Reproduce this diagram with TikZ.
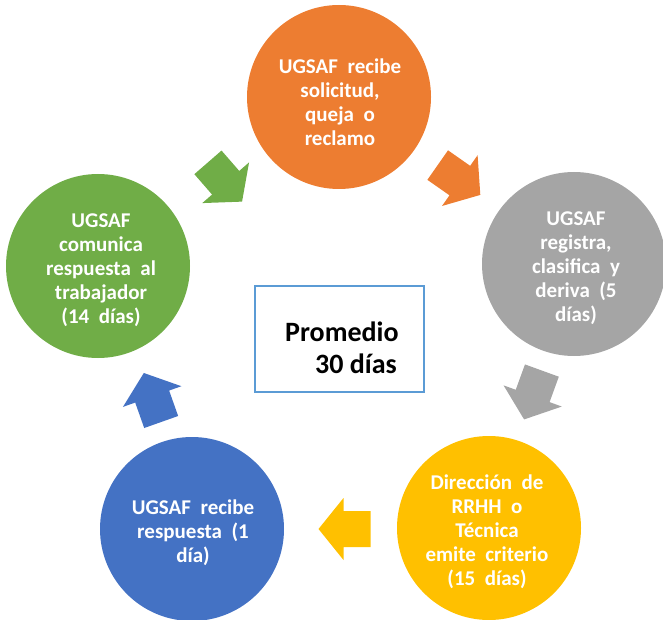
\documentclass[tikz,border=0pt]{standalone}
\usepackage{fontspec}
\setmainfont{Carlito}
\definecolor{cOrange}{HTML}{ED7D31}
\definecolor{cGray}{HTML}{A5A5A5}
\definecolor{cYellow}{HTML}{FFC000}
\definecolor{cBlue}{HTML}{4472C4}
\definecolor{cGreen}{HTML}{70AD47}
\definecolor{cFrame}{HTML}{5B9BD5}
\begin{document}
\begin{tikzpicture}[x=1pt,y=1pt]
\useasboundingbox (0,0) rectangle (663,619);
\tikzset{
  stage/.style={circle, fill=#1, minimum size=184pt, inner sep=0pt},
  stagetext/.style={text=white, font=\fontsize{21}{24}\selectfont\bfseries, align=center, inner sep=0pt},
  blockarrow/.style={fill=#1},
  midbox/.style={draw=cFrame, line width=1.2pt, minimum width=169pt, minimum height=106pt, inner sep=0pt},
  midtext/.style={font=\fontsize{28}{31}\selectfont\bfseries, inner sep=0pt, anchor=base west}
}
% circles
\node[stage=cOrange] (s1) at (339,522) {};
\node[stage=cGray]   (s2) at (574,355) {};
\node[stage=cYellow] (s3) at (489,91) {};
\node[stage=cBlue]   (s4) at (192,90) {};
\node[stage=cGreen]  (s5) at (98,353) {};
% texts
\node[stagetext] (t1) at ([xshift=1pt,yshift=-5pt]s1.center) {UGSAF\ \ recibe\\solicitud,\\queja\ \ o\\reclamo};
\node[stagetext] (t2) at ([xshift=2pt,yshift=-4pt]s2.center) {UGSAF\\registra,\\clasifica\ \ y\\deriva\ \ (5\\días)};
\node[stagetext] (t3) at ([xshift=-2pt,yshift=-4pt]s3.center) {Dirección\ \ de\\RRHH\ \ o\\Técnica\\emite\ \ criterio\\(15\ \ días)};
\node[stagetext] (t4) at ([xshift=1pt,yshift=-4pt]s4.center) {UGSAF\ \ recibe\\respuesta\ \ (1\\día)};
\node[stagetext] (t5) at ([xshift=3pt,yshift=-4pt]s5.center) {UGSAF\\comunica\\respuesta\ \ al\\trabajador\\(14\ \ días)};
% block arrows
\fill[blockarrow=cOrange, shift={(459,439)}, rotate=-35] (-26,-18) -- (1,-18) -- (1,-31) -- (26,0) -- (1,31) -- (1,18) -- (-26,18) -- cycle;
\fill[blockarrow=cGray, shift={(533,224)}, rotate=-110] (-26,-18) -- (1,-18) -- (1,-31) -- (26,0) -- (1,31) -- (1,18) -- (-26,18) -- cycle;
\fill[blockarrow=cYellow, shift={(344.5,90)}, rotate=180] (-26,-18) -- (1,-18) -- (1,-31) -- (26,0) -- (1,31) -- (1,18) -- (-26,18) -- cycle;
\fill[blockarrow=cBlue, shift={(152.5,221.5)}, rotate=109.5] (-26,-18) -- (1,-18) -- (1,-31) -- (26,0) -- (1,31) -- (1,18) -- (-26,18) -- cycle;
\fill[blockarrow=cGreen, shift={(225,437)}, rotate=-49] (-26,-18) -- (1,-18) -- (1,-31) -- (26,0) -- (1,31) -- (1,18) -- (-26,18) -- cycle;
% central box
\node[midbox] (box) at (339.5,280) {};
\node[midtext] (p1) at (285,278) {Promedio};
\node[midtext] (p2) at (315,246) {30 días};
\end{tikzpicture}
\end{document}
